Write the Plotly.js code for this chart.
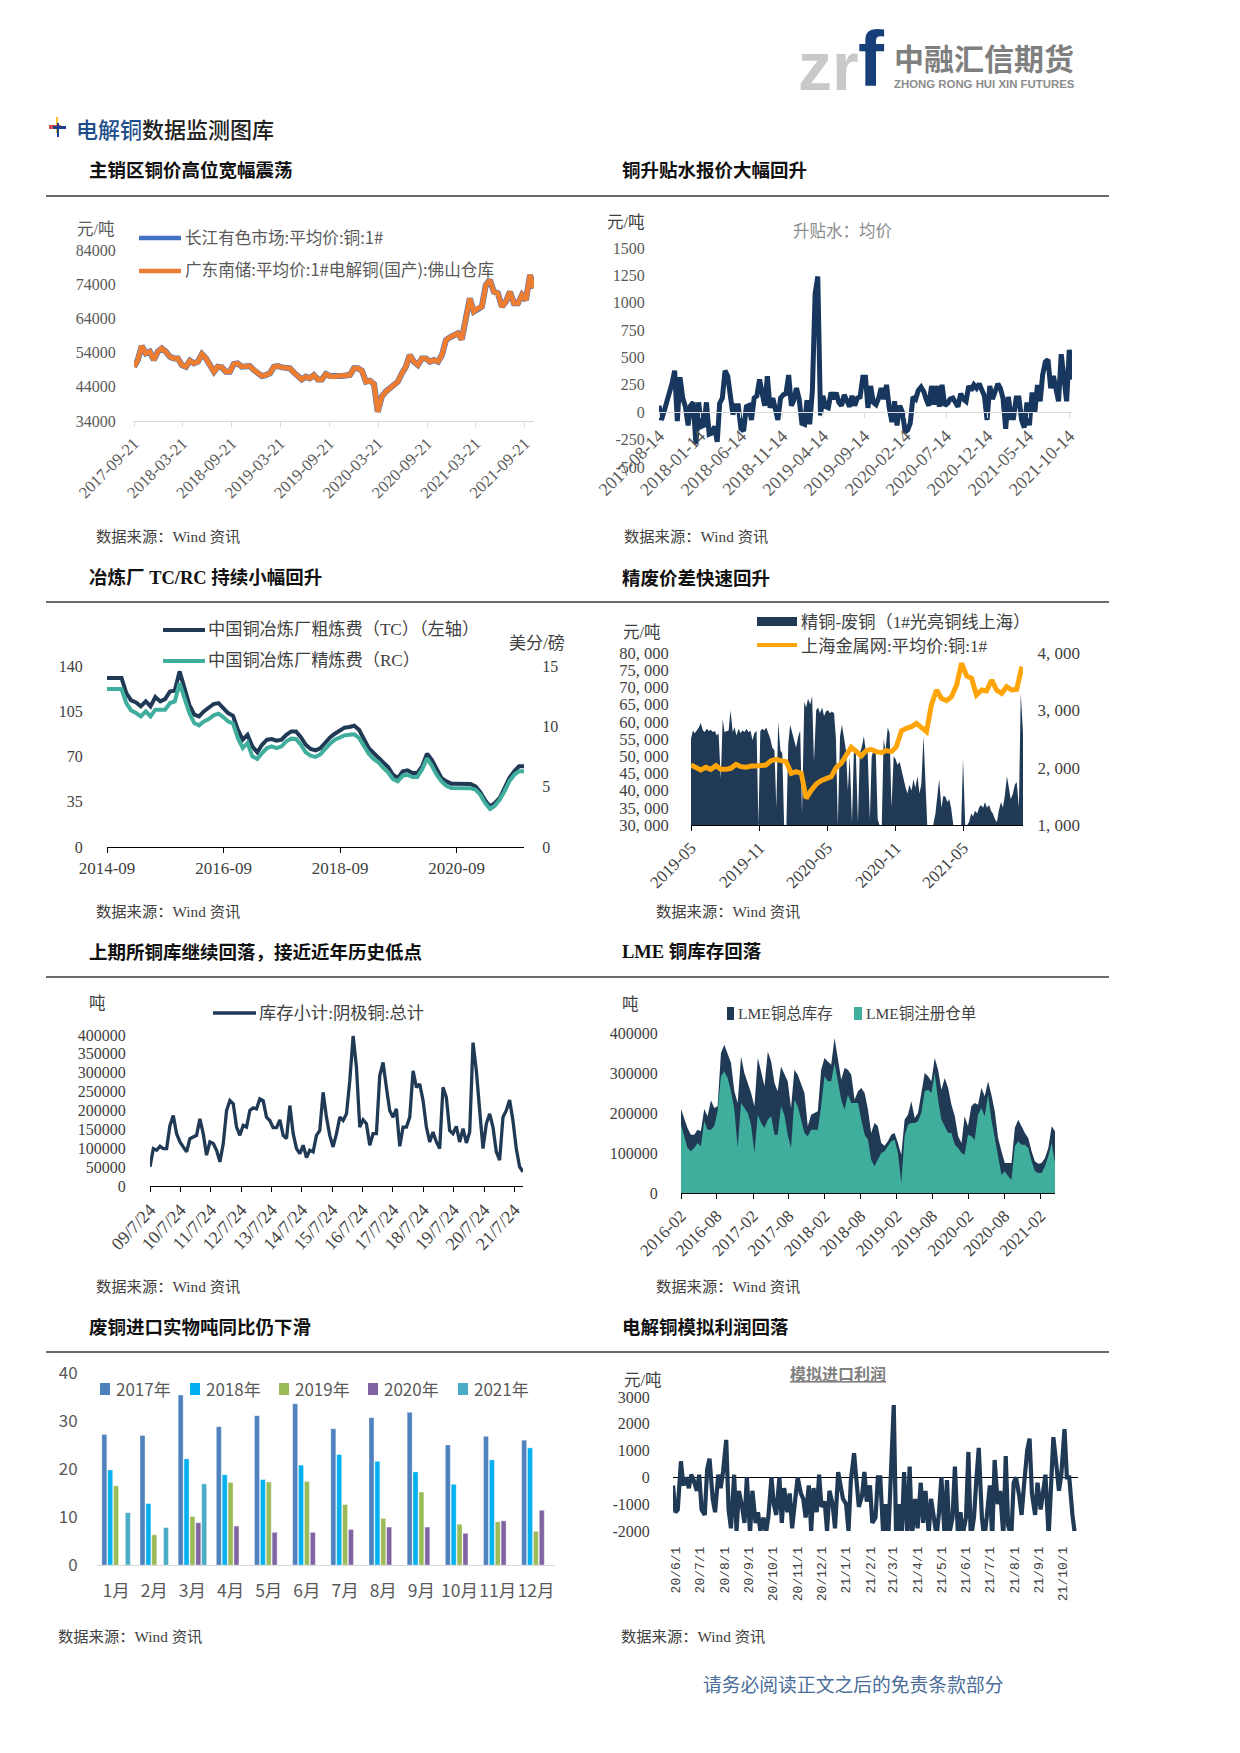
<!DOCTYPE html>
<html><head><meta charset="utf-8">
<script src="https://cdn.plot.ly/plotly-3.0.1.min.js"></script>
<style>html,body{margin:0;padding:0;background:#fff}#c{width:1240px;height:1753px}</style></head>
<body><div id="c"></div>
<script>
const changjiangPrice=[49880,51830,55920,53780,54260,51830,54260,55240,54260,52800,52310,52310,50360,49880,51630,50850,51340,53580,52310,50360,48410,49880,49680,48410,48410,50650,50850,49880,49880,50070,48900,48120,47150,47440,47930,49880,50070,49680,49680,49390,48120,46950,46170,46950,46460,47440,46170,46170,47730,47150,46950,47150,47150,47150,47440,49390,49390,48700,45490,45780,44800,36710,41100,42560,43540,44510,45490,47930,49880,53290,51340,50360,52310,52310,51340,51830,51340,53290,57680,58460,59140,59630,57870,64500,69860,65960,66940,67430,73760,75230,71810,71330,67430,68890,71810,68400,68400,70840,69380,76690,72790];
const guangdongPrice=[49880,51830,55920,53780,54260,51830,54260,55240,54260,52800,52310,52310,50360,49880,51630,50850,51340,53580,52310,50360,48410,49880,49680,48410,48410,50650,50850,49880,49880,50070,48900,48120,47150,47440,47930,49880,50070,49680,49680,49390,48120,46950,46170,46950,46460,47440,46170,46170,47730,47150,46950,47150,47150,47150,47440,49390,49390,48700,45490,45780,44800,36710,41100,42560,43540,44510,45490,47930,49880,53290,51340,50360,52310,52310,51340,51830,51340,53290,57680,58460,59140,59630,57870,64500,69860,65960,66940,67430,73760,75230,71810,71330,67430,68890,71810,68400,68400,70840,69380,76690,72790];
const c1Ticks=['2017-09-21','2018-03-21','2018-09-21','2019-03-21','2019-09-21','2020-03-21','2020-09-21','2021-03-21','2021-09-21'];

const premium=[60,-70,10,100,150,270,380,-80,320,130,50,-120,60,90,-290,90,-130,-120,90,-200,-190,-130,-270,80,130,380,330,100,-20,60,60,-150,-170,50,60,-70,130,150,300,170,60,330,40,130,20,-70,130,160,170,340,60,110,220,120,-100,-110,110,-110,200,1080,1240,-30,150,50,40,180,120,180,90,60,160,90,50,150,60,130,140,320,320,40,240,90,70,130,220,120,250,40,-90,100,-120,60,0,-180,-160,-100,140,120,200,230,190,120,60,240,70,240,50,250,60,80,120,130,90,50,170,120,100,240,200,250,220,260,200,150,-70,240,120,190,260,220,130,-150,140,-50,-50,130,130,-70,-140,90,-120,180,0,250,100,340,460,480,220,330,200,100,530,300,100,570,300];
const c2Ticks=['2017-08-14','2018-01-14','2018-06-14','2018-11-14','2019-04-14','2019-09-14','2020-02-14','2020-07-14','2020-12-14','2021-05-14','2021-10-14'];
const c2Y=[-500,-250,0,250,500,750,1000,1250,1500];

const tcFee=[130.7,130.7,130.7,130.7,119,113.4,111.8,108.8,112.6,108.8,116,112.6,114.4,120.3,121.1,135.8,122.9,110,102.3,101,104.9,107.5,110.6,111.3,107.5,103.6,101.5,90.7,83,86.8,77.8,73.2,79.1,83,83.5,82.2,83,86.8,89.4,89.4,85,79.1,75.8,74.7,76.3,80.4,84.8,87.6,90.2,92.3,92.8,93.8,90.7,83,76.5,72.7,68.8,64.9,61.8,55.9,53.3,58.5,59.3,57.2,57.2,62.4,72.2,67.5,59.8,53.3,50.8,49,49,49,49,48.7,46.9,42.5,36.1,31.4,34,37.9,45.6,53.3,58.5,62.4,62.4];
const rcFee=[13.09,13.09,13.09,13.09,11.93,11.32,11.1,10.83,11.24,10.83,11.38,11.38,11.38,11.93,12.07,13.59,12.35,11.1,10.27,10.08,10.41,10.61,10.91,11.05,10.77,10.41,10.22,9.03,8.2,8.62,7.51,7.29,7.79,8.2,8.34,8.2,8.34,8.76,8.98,8.95,8.48,7.84,7.57,7.46,7.68,8.12,8.56,8.89,9.11,9.25,9.31,9.34,9.03,8.4,7.73,7.29,7.02,6.55,6.19,5.63,5.44,5.91,5.99,5.8,5.8,6.41,7.35,6.74,5.99,5.44,5.08,4.89,4.89,4.89,4.89,4.86,4.75,4.34,3.65,3.15,3.42,3.92,4.61,5.44,5.99,6.27,6.27];

const refinedScrapSpread=[2500,2650,2600,2650,2700,2780,2650,2620,2680,2640,2660,2620,2640,2560,2600,1800,2850,2620,2640,2650,3000,2620,2700,2560,2680,2600,2650,2620,2680,2620,2640,2480,2600,2640,1000,2640,2680,2650,2700,2600,2500,2350,2300,1300,2800,2300,2250,1000,1000,2400,2750,2600,2450,2350,2550,2650,1200,3150,3050,3200,3100,3250,2100,3000,3050,2950,3050,2900,2980,3000,2950,2980,2950,2500,1000,2550,2750,2550,2300,1600,2200,1050,2250,2350,1050,2250,2350,2550,2300,2300,1100,2200,2300,2250,1100,1000,1000,2500,2300,2700,2600,1300,2200,2150,2050,2100,1950,1850,1650,1550,1700,1600,1800,1650,1850,1550,1700,2550,1900,1000,1000,1000,1000,1200,1550,1800,1300,1500,1500,1400,1450,1300,1000,1000,1000,1000,1000,2150,1000,1000,1050,1200,1150,1250,1200,1300,1350,1300,1400,1300,1350,1250,1200,1100,1050,1250,1400,1300,1500,1850,1600,1450,1550,1700,1750,1300,3300,2600];
const shanghaiPrice=[47440,46670,45990,46760,46180,47250,46180,46180,46480,47640,46960,46770,47150,47150,47150,47440,48700,49090,48700,48410,45020,45500,45020,37750,39980,41920,42890,43370,44050,46760,47930,50350,52580,51320,50060,51610,52000,51320,51030,51610,51320,52770,57420,58100,58590,59550,58390,57130,64880,69240,66820,66140,67310,70700,77000,73310,72640,67790,69240,68950,72150,69240,68280,70210,69240,69440,76030];
const c4Left=[30000,35000,40000,45000,50000,55000,60000,65000,70000,75000,80000];
const c4LeftText=['30, 000','35, 000','40, 000','45, 000','50, 000','55, 000','60, 000','65, 000','70, 000','75, 000','80, 000'];
const c4Ticks=['2019-05-01','2019-11-01','2020-05-01','2020-11-01','2021-05-01'];

const shfeStock=[50900,99100,94700,105200,99100,99100,160500,186800,138600,116600,103500,90300,125400,129800,134200,178000,138600,81600,116600,112300,94700,64000,112300,200000,226300,217500,156100,134200,160500,156100,200000,207000,204300,230700,226300,182400,173600,154400,154400,175400,134200,125400,213100,138600,99100,85900,107900,75400,94700,90300,134200,147300,248200,182400,134200,103500,138600,182400,173600,191200,278900,397300,314000,156100,175400,164900,107900,138600,138600,292000,327100,261300,200000,182400,204300,105200,156100,156100,182400,305200,261300,270100,226300,156100,116600,143000,116600,99100,261300,235000,147300,138600,157900,116600,151700,114000,143000,379700,305200,200000,99100,164900,191200,156100,90300,68400,182400,200000,228000,173600,99100,50900,37700];
const c5Labels=['09/7/24','10/7/24','11/7/24','12/7/24','13/7/24','14/7/24','15/7/24','16/7/24','17/7/24','18/7/24','19/7/24','20/7/24','21/7/24'];
const c5Ticks=['2009-07-24','2010-07-24','2011-07-24','2012-07-24','2013-07-24','2014-07-24','2015-07-24','2016-07-24','2017-07-24','2018-07-24','2019-07-24','2020-07-24','2021-07-24'];

const lmeTotal=[209900,187400,162400,145800,145800,158300,154100,209900,191600,231600,212400,216600,349900,370700,345700,324900,254100,224900,341500,299900,274900,249900,216600,337400,304000,266600,354000,329000,274900,254100,316500,299900,279100,212400,308200,295700,274900,249900,166600,195800,199900,204100,308200,337400,329000,320700,387300,333200,283200,312400,308200,295700,233200,254100,262400,249900,208300,149900,174900,166600,125000,118300,129100,145800,149900,125000,95800,183300,195800,229100,187400,199900,249900,299900,291600,279100,337400,308200,258200,287400,262400,220700,191600,141600,125000,191600,166600,216600,224900,220700,262400,241600,279100,245700,204100,137400,104100,75000,75000,75000,162400,183300,166600,149900,137400,104100,79100,73300,75000,87500,112500,166600,154100];
const lmeRegistered=[170800,141600,112500,104100,112500,125000,116600,179100,158300,158300,166600,204100,291600,304000,287400,254100,208300,112500,224900,212400,199900,170800,100000,195800,174900,162400,183300,191600,145800,145800,216600,195800,145800,112500,233200,216600,179100,149900,141600,158300,158300,158300,216600,291600,279100,279100,324900,274900,233200,208300,245700,224900,224900,224900,183300,145800,133300,83300,66600,83300,100000,104100,118300,129100,133300,100000,25000,141600,170800,174900,174900,179100,199900,254100,258200,249900,299900,233200,183300,166600,149900,149900,120800,112500,100000,95800,145800,141600,133300,195800,212400,191600,245700,183300,137400,100000,45800,54100,41700,33300,116600,129100,120800,120800,112500,79100,54100,50000,50000,66600,91600,125000,75000];
const c6Ticks=['2016-02-01','2016-08-01','2017-02-01','2017-08-01','2018-02-01','2018-08-01','2019-02-01','2019-08-01','2020-02-01','2020-08-01','2021-02-01'];

const months=['1月','2月','3月','4月','5月','6月','7月','8月','9月','10月','11月','12月'];
const y2017=[27.2,27,35.4,28.8,31.1,33.6,28.4,30.7,31.8,25,26.8,26];
const y2018=[19.8,12.8,22.1,18.8,17.8,20.8,23,21.6,19.4,16.8,21.9,24.4];
const y2019=[16.5,6.3,10.1,17.2,17.3,17.4,12.6,9.7,15.2,8.5,9,7];
const y2020=[null,null,8.8,8.1,6.8,6.8,7.4,7.9,7.9,6.6,9.2,11.4];
const y2021=[10.9,7.8,16.9,null,null,null,null,null,null,null,null,null];

const importProfit=[-300,-1300,-1200,600,-300,0,-400,100,-100,-500,100,-1200,-1400,300,700,-800,-1300,100,-400,200,1400,-1200,-1900,100,-2000,-500,-1100,-1700,0,-2100,-500,-1700,-1300,-2000,-1500,-2100,-1500,0,-1000,-1400,0,-1700,-400,-1300,-600,-1900,-800,0,-600,-800,-1500,-300,-2000,-400,-1300,100,-1100,-900,-2000,-500,-1000,-1900,200,-300,-800,-1000,-2000,-100,900,-100,-1100,-700,200,-900,-300,-1700,-1500,0,0,-2300,-1000,-2300,900,2700,-2300,-1000,-2200,200,-2100,400,-2200,-800,-1900,-200,-1700,-500,-2100,-800,-1400,-2200,-1300,0,-2200,-100,-2100,-1500,400,-2300,-1300,-2100,-1500,950,-2300,-1500,-100,1100,-1500,-2300,-1500,-300,-2300,650,-1000,-500,-2200,800,-1800,-2200,-200,0,-700,-1400,-300,1000,1450,-600,-1400,-200,-1200,-400,100,-2200,-300,1500,400,-500,100,1800,0,0,-1400,-2100,-2300];
const c8Labels=['20/6/1','20/7/1','20/8/1','20/9/1','20/10/1','20/11/1','20/12/1','21/1/1','21/2/1','21/3/1','21/4/1','21/5/1','21/6/1','21/7/1','21/8/1','21/9/1','21/10/1'];
const c8Ticks=['2020-06-01','2020-07-01','2020-08-01','2020-09-01','2020-10-01','2020-11-01','2020-12-01','2021-01-01','2021-02-01','2021-03-01','2021-04-01','2021-05-01','2021-06-01','2021-07-01','2021-08-01','2021-09-01','2021-10-01'];

const W=1240,H=1753;
const SERIF='"Liberation Serif","Noto Sans CJK SC",serif';
const SANS='"Noto Sans CJK SC",sans-serif';
const MONO='"Liberation Mono","Noto Sans CJK SC",monospace';
const NAVY='#203a56',TEAL='#40ae9c';
const px=x=>x/W, py=y=>1-y/H;
function spread(a,b,n){const s=new Date(a).getTime(),e=new Date(b).getTime();return Array.from({length:n},(_,i)=>new Date(s+(e-s)*i/(n-1)).toISOString().slice(0,10));}
const annotations=[],shapes=[];
function T(x,y,text,o={}){annotations.push({xref:'paper',yref:'paper',x:px(x),y:py(y),text,showarrow:false,xanchor:o.anchor||'left',yanchor:'middle',borderpad:0,font:{family:o.family||SERIF,size:o.size||16.5,color:o.color||'#404040',weight:o.weight||400}});}
function L(x0,y0,x1,y1,color,width){shapes.push({type:'line',xref:'paper',yref:'paper',x0:px(x0),y0:py(y0),x1:px(x1),y1:py(y1),line:{color,width}});}
function R(x0,y0,x1,y1,color){shapes.push({type:'rect',xref:'paper',yref:'paper',x0:px(x0),y0:py(y0),x1:px(x1),y1:py(y1),fillcolor:color,line:{width:0}});}
function dom(a,b){return [a/W,b/W];}
function domY(top,bot){return [1-bot/H,1-top/H];}
function xAxis(l,r,o){return Object.assign({domain:dom(l,r),showgrid:false,zeroline:false,showline:true,linecolor:'#000',linewidth:1.3,ticks:'outside',ticklen:5,tickcolor:'#000',tickfont:{family:SERIF,size:17,color:'#404040'},automargin:false},o);}
function yAxis(top,bot,o){return Object.assign({domain:domY(top,bot),showgrid:false,zeroline:false,showline:false,ticks:'outside',tickcolor:'rgba(0,0,0,0)',tickwidth:0,tickfont:{family:SERIF,size:16,color:'#404040'},automargin:false},o);}

const traces=[];
const d1=spread('2017-09-21','2021-10-25',changjiangPrice.length);
traces.push({x:d1,y:changjiangPrice,name:'长江有色市场:平均价:铜:1#',mode:'lines',line:{color:'#4472c4',width:6},xaxis:'x',yaxis:'y'});
traces.push({x:d1,y:guangdongPrice,name:'广东南储:平均价:1#电解铜(国产):佛山仓库',mode:'lines',line:{color:'#ed7d31',width:5},xaxis:'x',yaxis:'y'});
traces.push({x:spread('2017-08-14','2021-10-24',premium.length),y:premium,name:'升贴水：均价',mode:'lines',line:{color:'#17375e',width:5},xaxis:'x2',yaxis:'y2'});
const d3=spread('2014-09-01','2021-10-28',tcFee.length);
traces.push({x:d3,y:tcFee,name:'中国铜冶炼厂粗炼费（TC）（左轴）',mode:'lines',line:{color:NAVY,width:4},xaxis:'x3',yaxis:'y3'});
traces.push({x:d3,y:rcFee,name:'中国铜冶炼厂精炼费（RC）',mode:'lines',line:{color:TEAL,width:4},xaxis:'x3',yaxis:'y4'});
traces.push({x:spread('2019-05-01','2021-10-08',refinedScrapSpread.length),y:refinedScrapSpread,name:'精铜-废铜（1#光亮铜线上海）',mode:'lines',fill:'tozeroy',fillcolor:NAVY,line:{color:NAVY,width:0},xaxis:'x4',yaxis:'y5'});
traces.push({x:spread('2019-05-01','2021-10-05',shanghaiPrice.length),y:shanghaiPrice,name:'上海金属网:平均价:铜:1#',mode:'lines',line:{color:'#ffa50a',width:5},xaxis:'x4',yaxis:'y6'});
traces.push({x:spread('2009-07-24','2021-11-04',shfeStock.length),y:shfeStock,name:'库存小计:阴极铜:总计',mode:'lines',line:{color:NAVY,width:3.3},xaxis:'x5',yaxis:'y7'});
const d6=spread('2016-02-01','2021-04-15',lmeTotal.length);
traces.push({x:d6,y:lmeTotal,name:'LME铜总库存',mode:'lines',fill:'tozeroy',fillcolor:NAVY,line:{color:NAVY,width:0},xaxis:'x6',yaxis:'y8'});
traces.push({x:d6,y:lmeRegistered,name:'LME铜注册仓单',mode:'lines',fill:'tozeroy',fillcolor:TEAL,line:{color:TEAL,width:0},xaxis:'x6',yaxis:'y8'});
[['2017年',y2017,'#4f81bd'],['2018年',y2018,'#00b0f0'],['2019年',y2019,'#9bbb59'],['2020年',y2020,'#8064a2'],['2021年',y2021,'#4bacc6']].forEach(([n,v,c])=>traces.push({type:'bar',x:months,y:v,name:n,marker:{color:c,line:{color:'rgba(255,255,255,.6)',width:.6}},xaxis:'x7',yaxis:'y9'}));
traces.push({x:spread('2020-05-28','2021-10-20',importProfit.length),y:importProfit,name:'模拟进口利润',mode:'lines',line:{color:NAVY,width:4.2},xaxis:'x8',yaxis:'y10'});

const layout={width:W,height:H,margin:{l:0,r:0,t:0,b:0},paper_bgcolor:'#fff',plot_bgcolor:'rgba(0,0,0,0)',showlegend:false,barmode:'group',bargap:.23,bargroupgap:.15,annotations,shapes,
 xaxis:xAxis(134,534,{type:'date',range:['2017-09-21','2021-10-25'],tickvals:c1Ticks,ticktext:c1Ticks,tickangle:-45,linecolor:'#d9d9d9',tickcolor:'#d9d9d9',anchor:'y',tickfont:{family:SERIF,size:16.5,color:'#595959'}}),
 yaxis:yAxis(250,421,{range:[34000,84000],tickvals:[34000,44000,54000,64000,74000,84000],tickformat:'d',ticklen:14,anchor:'x',tickfont:{family:SERIF,size:16,color:'#595959'}}),
 xaxis2:xAxis(659,1072,{type:'date',range:['2017-08-14','2021-10-24'],tickvals:c2Ticks,ticktext:c2Ticks,tickangle:-45,linecolor:'#d9d9d9',tickcolor:'#d9d9d9',anchor:'free',position:1-412/H,tickfont:{family:SERIF,size:18,color:'#595959'}}),
 yaxis2:yAxis(248,467,{range:[-500,1500],tickvals:c2Y,ticktext:c2Y.map(String),ticklen:10,anchor:'x2',tickfont:{family:SERIF,size:16,color:'#595959'}}),
 xaxis3:xAxis(107,524,{type:'date',range:['2014-09-01','2021-10-28'],tickvals:['2014-09-01','2016-09-01','2018-09-01','2020-09-01'],ticktext:['2014-09','2016-09','2018-09','2020-09'],tickangle:0,anchor:'y3'}),
 yaxis3:yAxis(666,847,{range:[0,140],tickvals:[0,35,70,105,140],ticklen:20,anchor:'x3'}),
 yaxis4:yAxis(666,847,{range:[0,15],tickvals:[0,5,10,15],ticklen:14,overlaying:'y3',side:'right',anchor:'x3'}),
 xaxis4:xAxis(691,1023,{type:'date',range:['2019-05-01','2021-10-08'],tickvals:c4Ticks,ticktext:['2019-05','2019-11','2020-05','2020-11','2021-05'],tickangle:-45,anchor:'y5'}),
 yaxis5:yAxis(653,825,{range:[1000,4000],tickvals:[1000,2000,3000,4000],ticktext:['1, 000','2, 000','3, 000','4, 000'],ticklen:10,side:'right',anchor:'x4',tickfont:{family:SERIF,size:17,color:'#404040'}}),
 yaxis6:yAxis(653,825,{range:[30000,80000],tickvals:c4Left,ticktext:c4LeftText,ticklen:18,side:'left',overlaying:'y5',anchor:'x4',tickfont:{family:SERIF,size:16.5,color:'#404040'}}),
 xaxis5:xAxis(150,523,{type:'date',range:['2009-07-24','2021-11-04'],tickvals:c5Ticks,ticktext:c5Labels,tickangle:-47,anchor:'y7',tickfont:{family:SERIF,size:18,color:'#404040'}}),
 yaxis7:yAxis(1035,1186,{range:[0,400000],dtick:50000,ticklen:20,tickformat:'d',anchor:'x5'}),
 xaxis6:xAxis(681,1055,{type:'date',range:['2016-02-01','2021-04-15'],tickvals:c6Ticks,ticktext:c6Ticks.map(s=>s.slice(0,7)),tickangle:-45,anchor:'y8'}),
 yaxis8:yAxis(1033,1193,{range:[0,400000],dtick:100000,ticklen:19,tickformat:'d',anchor:'x6'}),
 xaxis7:xAxis(97,555,{type:'category',categoryorder:'array',categoryarray:months,linecolor:'#d9d9d9',ticks:'',ticklabelstandoff:10,tickangle:0,tickfont:{family:SANS,size:17.5,color:'#595959'},anchor:'y9'}),
 yaxis9:yAxis(1373,1565,{range:[0,40],dtick:10,ticklen:15,anchor:'x7',tickfont:{family:SANS,size:17,color:'#595959'}}),
 xaxis8:xAxis(673,1078,{type:'date',range:['2020-05-28','2021-10-20'],tickvals:c8Ticks,ticktext:c8Labels,tickangle:-90,showline:false,ticks:'',ticklabelstandoff:12,tickfont:{family:MONO,size:13,color:'#404040'},anchor:'y10'}),
 yaxis10:yAxis(1397,1531,{range:[-2000,3000],dtick:1000,ticklen:19,tickformat:'d',zeroline:true,zerolinecolor:'#000',zerolinewidth:1.5,anchor:'x8',tickvals:[-2000,-1000,0,1000,2000,3000],ticktext:['-2000','-1000','0','1000','2000','3000']})
};

T(797,66,'zr',{family:'"Liberation Sans",sans-serif',size:68,color:'#c9c9c9',weight:700});
T(857,59,'f',{family:'"Liberation Sans",sans-serif',size:78,color:'#17407a',weight:700});
T(893,57,'中融汇信期货',{family:SANS,size:30,color:'#7f7f7f',weight:700});
T(893,84,'ZHONG RONG HUI XIN FUTURES',{family:'"Liberation Sans",sans-serif',size:11.4,color:'#8c8c8c',weight:700});
R(56,117,58,133,'#f2c230');R(49,125,61,129,'#d94f4f');R(53,126,66,129,'#1f3f8f');R(57,123,59,137,'#1f3f8f');
T(75,128,'<span style="color:#1f4e8c">电解铜</span>数据监测图库',{family:SANS,size:22,color:'#222',weight:500});
[196,602,977,1352].forEach(y=>L(46,y,1109,y,'#3a3a3a',1.3));
[[88,171,'主销区铜价高位宽幅震荡'],[621,171,'铜升贴水报价大幅回升'],[88,578,'冶炼厂 TC/RC 持续小幅回升'],[621,578,'精废价差快速回升'],[88,952,'上期所铜库继续回落，接近近年历史低点'],[621,952,'LME 铜库存回落'],[88,1327,'废铜进口实物吨同比仍下滑'],[621,1327,'电解铜模拟利润回落']].forEach(([x,y,t])=>T(x,y,t,{family:SERIF,size:18.5,color:'#111',weight:700}));
[[95,537],[623,537],[95,911],[655,911],[95,1286],[655,1286],[57,1636],[620,1636]].forEach(([x,y])=>T(x,y,'数据来源：Wind 资讯',{size:15.3}));
T(96,230,'元/吨',{anchor:'center',color:'#595959'});
L(139,238,181,238,'#4472c4',4.5);T(184,237,'长江有色市场:平均价:铜:1#',{family:SANS,size:16.6,color:'#595959'});
L(139,271,181,271,'#ed7d31',4.5);T(184,269,'广东南储:平均价:1#电解铜(国产):佛山仓库',{family:SANS,size:16.6,color:'#595959'});
T(626,223,'元/吨',{anchor:'center'});T(842,232,'升贴水：均价',{anchor:'center',color:'#8c8c8c'});
L(163,630,205,630,NAVY,4);T(207,630,'中国铜冶炼厂粗炼费（TC）（左轴）',{size:17.2});
L(163,661,205,661,TEAL,4);T(207,661,'中国铜冶炼厂精炼费（RC）',{size:17.2});
T(537,644,'美分/磅',{anchor:'center',size:17});
T(642,632,'元/吨',{anchor:'center'});
R(757,617,797,626,NAVY);T(800,622,'精铜-废铜（1#光亮铜线上海）',{size:17.2});
L(757,645,797,645,'#ffa50a',4);T(800,646,'上海金属网:平均价:铜:1#',{size:17.2});
T(98,1003,'吨',{anchor:'center'});
L(213,1013,256,1013,NAVY,3.5);T(258,1013,'库存小计:阴极铜:总计',{size:17.3});
T(630,1004,'吨',{anchor:'center'});
R(727,1007,734,1020,NAVY);T(737,1013,'LME铜总库存',{size:15.5});
R(854,1007,862,1020,TEAL);T(865,1013,'LME铜注册仓单',{size:15.5});
[[100,'#4f81bd','2017年'],[190,'#00b0f0','2018年'],[279,'#9bbb59','2019年'],[368,'#8064a2','2020年'],[458,'#4bacc6','2021年']].forEach(([x,c,t])=>{R(x,1383,x+10,1395,c);T(x+15,1388,t,{family:SANS,size:17,color:'#595959'});});
T(643,1380,'元/吨',{anchor:'center'});
T(838,1373,'<u>模拟进口利润</u>',{anchor:'center',family:SANS,size:16,color:'#7f7f7f',weight:700});
T(853,1685,'请务必阅读正文之后的免责条款部分',{anchor:'center',size:18.8,color:'#4a6d9a'});

Plotly.newPlot('c',traces,layout,{staticPlot:true,displayModeBar:false});
</script></body></html>
